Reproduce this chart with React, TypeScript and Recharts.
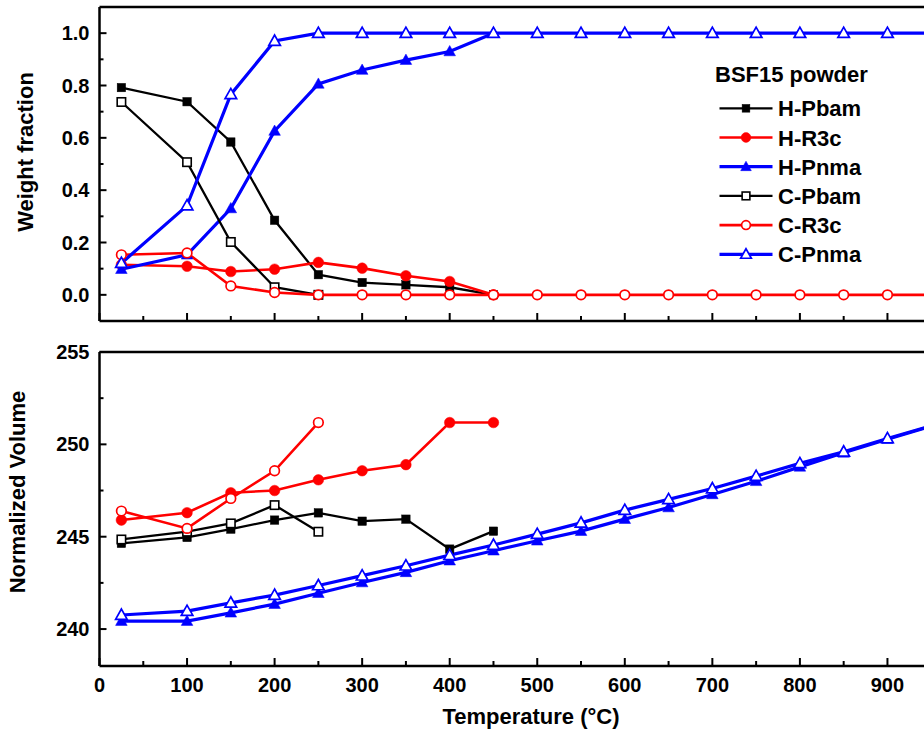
import React from 'react';
import { LineChart, Line, XAxis, YAxis, ReferenceLine } from 'recharts';

const FONT = '"Liberation Sans", Arial, Helvetica, sans-serif';

// Temperatures (°C) at which each phase was refined
const tempsHot = [25, 100, 150, 200, 250, 300, 350, 400, 450];
const tempsCoolShort = [25, 100, 150, 200, 250];
const tempsAll = [25, 100, 150, 200, 250, 300, 350, 400, 450, 500, 550, 600, 650, 700, 750, 800, 850, 900, 950];

// Weight fractions
const fracHPbam = [0.792, 0.738, 0.584, 0.285, 0.077, 0.047, 0.038, 0.029, 0];
const fracHR3c = [0.115, 0.109, 0.089, 0.098, 0.124, 0.102, 0.073, 0.051, 0];
const fracHPnma = [0.098, 0.153, 0.33, 0.626, 0.806, 0.859, 0.897, 0.93, 1.0];
const fracCPbam = [0.737, 0.507, 0.202, 0.029, 0];
const fracCR3c = [0.153, 0.16, 0.034, 0.009, 0, 0, 0, 0, 0, 0, 0, 0, 0, 0, 0, 0, 0, 0, 0];
const fracCPnma = [0.121, 0.341, 0.766, 0.97, 1, 1, 1, 1, 1, 1, 1, 1, 1, 1, 1, 1, 1, 1, 1];

// Normalized cell volumes
const volHPbam = [244.64, 244.96, 245.41, 245.9, 246.29, 245.84, 245.95, 244.33, 245.3];
const volHR3c = [245.9, 246.3, 247.38, 247.5, 248.08, 248.57, 248.9, 251.18, 251.18];
const volHPnma = [240.43, 240.43, 240.88, 241.35, 241.94, 242.52, 243.07, 243.7, 244.24, 244.78, 245.3, 245.95, 246.58, 247.29, 248.0, 248.78, 249.54, 250.28, 250.98];
const volCPbam = [244.85, 245.27, 245.72, 246.71, 245.27];
const volCR3c = [246.39, 245.45, 247.07, 248.57, 251.18];
const volCPnma = [240.76, 240.97, 241.42, 241.84, 242.36, 242.89, 243.43, 244.0, 244.55, 245.14, 245.75, 246.44, 247.02, 247.61, 248.28, 248.97, 249.6, 250.32, 251.0];

// Axis ticks
const tempMajorTicks = [0, 100, 200, 300, 400, 500, 600, 700, 800, 900, 1000];
const tempMinorTicks = [50, 150, 250, 350, 450, 550, 650, 750, 850, 950];
const tempTickLabels = [0, 100, 200, 300, 400, 500, 600, 700, 800, 900];
const fracMajorTicks = [0, 0.2, 0.4, 0.6, 0.8, 1.0];
const fracMinorTicks = [0.1, 0.3, 0.5, 0.7, 0.9];
const volMajorTicks = [240, 245, 250, 255];
const volMinorTicks = [242.5, 247.5, 252.5];

const legendTitle = 'BSF15 powder';

type Shape = 'square' | 'circle' | 'triangle';
interface SeriesDef {
  name: string;
  color: string;
  shape: Shape;
  filled: boolean;
  width: number;
}

const SERIES: SeriesDef[] = [
  { name: 'H-Pbam', color: '#000000', shape: 'square', filled: true, width: 2.3 },
  { name: 'H-R3c', color: '#ff0000', shape: 'circle', filled: true, width: 2.6 },
  { name: 'H-Pnma', color: '#0000ff', shape: 'triangle', filled: true, width: 3.2 },
  { name: 'C-Pbam', color: '#000000', shape: 'square', filled: false, width: 2.3 },
  { name: 'C-R3c', color: '#ff0000', shape: 'circle', filled: false, width: 2.6 },
  { name: 'C-Pnma', color: '#0000ff', shape: 'triangle', filled: false, width: 3.2 },
];

const zip = (ts: number[], vs: number[]) => ts.map((t, i) => ({ t, v: vs[i] }));

const fracData = [
  zip(tempsHot, fracHPbam),
  zip(tempsHot, fracHR3c),
  zip(tempsHot, fracHPnma),
  zip(tempsCoolShort, fracCPbam),
  zip(tempsAll, fracCR3c),
  zip(tempsAll, fracCPnma),
];

const volData = [
  zip(tempsHot, volHPbam),
  zip(tempsHot, volHR3c),
  zip(tempsAll, volHPnma),
  zip(tempsCoolShort, volCPbam),
  zip(tempsCoolShort, volCR3c),
  zip(tempsAll, volCPnma),
];

const sortTicks = (a: number[], b: number[]) => [...a, ...b].sort((p, q) => p - q);
const isIn = (list: number[], v: number) => list.some((m) => Math.abs(m - v) < 1e-6);

function Marker({ cx, cy, shape, filled, color, size = 1 }: { cx?: number; cy?: number; shape: Shape; filled: boolean; color: string; size?: number }) {
  if (cx == null || cy == null || isNaN(cx) || isNaN(cy)) return null;
  const fill = filled ? color : '#ffffff';
  if (shape === 'square') {
    const h = 4.2 * size;
    return <rect x={cx - h} y={cy - h} width={2 * h} height={2 * h} fill={fill} stroke={color} strokeWidth={filled ? 0.5 : 1.6} />;
  }
  if (shape === 'circle') {
    const r = (filled ? 5.3 : 4.8) * size;
    return <circle cx={cx} cy={cy} r={r} fill={fill} stroke={color} strokeWidth={filled ? 0.5 : 1.7} />;
  }
  const w = 5.8 * size;
  const up = 6 * size;
  const dn = 4.3 * size;
  const pts = `${cx},${cy - up} ${cx - w},${cy + dn} ${cx + w},${cy + dn}`;
  return <polygon points={pts} fill={fill} stroke={color} strokeWidth={filled ? 0.5 : 1.7} strokeLinejoin="miter" />;
}

function XTick(props: any) {
  const { x, y, payload, showLabel } = props;
  const v = payload.value;
  const major = isIn(tempMajorTicks, v);
  return (
    <g>
      <line x1={x} y1={y} x2={x} y2={y - (major ? 8 : 5)} stroke="#000" strokeWidth={2} />
      {showLabel && isIn(tempTickLabels, v) ? (
        <text x={x} y={y + 26} textAnchor="middle" fontFamily={FONT} fontWeight="bold" fontSize={20} fill="#000">
          {String(v)}
        </text>
      ) : null}
    </g>
  );
}

function YTick(props: any) {
  const { x, y, payload, majors, digits } = props;
  const v = payload.value;
  const major = isIn(majors, v);
  return (
    <g>
      <line x1={x} y1={y} x2={x + (major ? 7 : 4)} y2={y} stroke="#000" strokeWidth={2} />
      {major ? (
        <text x={x - 10} y={y + 7} textAnchor="end" fontFamily={FONT} fontWeight="bold" fontSize={20} fill="#000">
          {v.toFixed(digits)}
        </text>
      ) : null}
    </g>
  );
}

// Axis title placed at a fixed anchor (px, py) inside the chart's SVG
function AxisTitle({ px, py, caption, vertical }: { px: number; py: number; caption: string; vertical?: boolean }) {
  return (
    <text
      x={0}
      y={0}
      transform={vertical ? `translate(${px},${py}) rotate(-90)` : `translate(${px},${py})`}
      textAnchor="middle"
      fontFamily={FONT}
      fontWeight="bold"
      fontSize={22}
      fill="#000"
    >
      {caption}
    </text>
  );
}

const spine = { stroke: '#000', strokeWidth: 2.5 };

function renderLines(datasets: { t: number; v: number }[][]) {
  return SERIES.map((s, i) => (
    <Line
      key={s.name}
      name={s.name}
      data={datasets[i]}
      dataKey="v"
      type="linear"
      stroke={s.color}
      strokeWidth={s.width}
      isAnimationActive={false}
      activeDot={false}
      dot={(p: any) => (
        <Marker key={`${s.name}-${p.index}`} cx={p.cx} cy={p.cy} shape={s.shape} filled={s.filled} color={s.color} />
      )}
    />
  ));
}

function LegendBox() {
  const rowY = (i: number) => 53.3 + 29.2 * i;
  return (
    <svg width={224} height={230} style={{ position: 'absolute', left: 700, top: 55 }}>
      <text x={15} y={26.5} fontFamily={FONT} fontWeight="bold" fontSize={22} fill="#000">
        {legendTitle}
      </text>
      {SERIES.map((s, i) => (
        <g key={s.name}>
          <line x1={19.5} x2={72.5} y1={rowY(i)} y2={rowY(i)} stroke={s.color} strokeWidth={s.width} />
          <Marker cx={46} cy={rowY(i)} shape={s.shape} filled={s.filled} color={s.color} size={0.92} />
          <text x={78} y={rowY(i) + 8} fontFamily={FONT} fontWeight="bold" fontSize={22} fill="#000">
            {s.name}
          </text>
        </g>
      ))}
    </svg>
  );
}

export default function App() {
  return (
    <div style={{ position: 'absolute', left: 0, top: 0, width: 924, height: 733, overflow: 'hidden', background: '#fff' }}>
      <div style={{ position: 'absolute', left: 0, top: 0 }}>
        <LineChart width={1000} height={330} margin={{ top: 7, right: 25, bottom: 0, left: 0 }}>
          <XAxis
            type="number"
            dataKey="t"
            domain={[0, 1000]}
            ticks={sortTicks(tempMajorTicks, tempMinorTicks)}
            interval={0}
            allowDataOverflow
            height={9}
            tickLine={false}
            tickSize={0}
            tickMargin={0}
            axisLine={spine}
            tick={<XTick showLabel={false} />}
          />
          <YAxis
            type="number"
            domain={[-0.1, 1.1]}
            ticks={sortTicks(fracMajorTicks, fracMinorTicks)}
            interval={0}
            allowDataOverflow
            width={99.5}
            tickLine={false}
            tickSize={0}
            tickMargin={0}
            axisLine={spine}
            tick={<YTick majors={fracMajorTicks} digits={1} />}
            label={<AxisTitle px={33} py={152} caption="Weight fraction" vertical />}
          />
          <ReferenceLine y={1.1} stroke="#000" strokeWidth={2.5} />
          <ReferenceLine x={1000} stroke="#000" strokeWidth={2.5} />
          {renderLines(fracData)}
        </LineChart>
      </div>
      <div style={{ position: 'absolute', left: 0, top: 330 }}>
        <LineChart width={1000} height={403} margin={{ top: 22, right: 25, bottom: 0, left: 0 }}>
          <XAxis
            type="number"
            dataKey="t"
            domain={[0, 1000]}
            ticks={sortTicks(tempMajorTicks, tempMinorTicks)}
            interval={0}
            allowDataOverflow
            height={67}
            tickLine={false}
            tickSize={0}
            tickMargin={0}
            axisLine={spine}
            tick={<XTick showLabel />}
            label={<AxisTitle px={531} py={394} caption="Temperature (°C)" />}
          />
          <YAxis
            type="number"
            domain={[238, 255]}
            ticks={sortTicks(volMajorTicks, volMinorTicks)}
            interval={0}
            allowDataOverflow
            width={99.5}
            tickLine={false}
            tickSize={0}
            tickMargin={0}
            axisLine={spine}
            tick={<YTick majors={volMajorTicks} digits={0} />}
            label={<AxisTitle px={25} py={162} caption="Normalized Volume" vertical />}
          />
          <ReferenceLine y={255} stroke="#000" strokeWidth={2.5} />
          <ReferenceLine x={1000} stroke="#000" strokeWidth={2.5} />
          {renderLines(volData)}
        </LineChart>
      </div>
      <LegendBox />
    </div>
  );
}
